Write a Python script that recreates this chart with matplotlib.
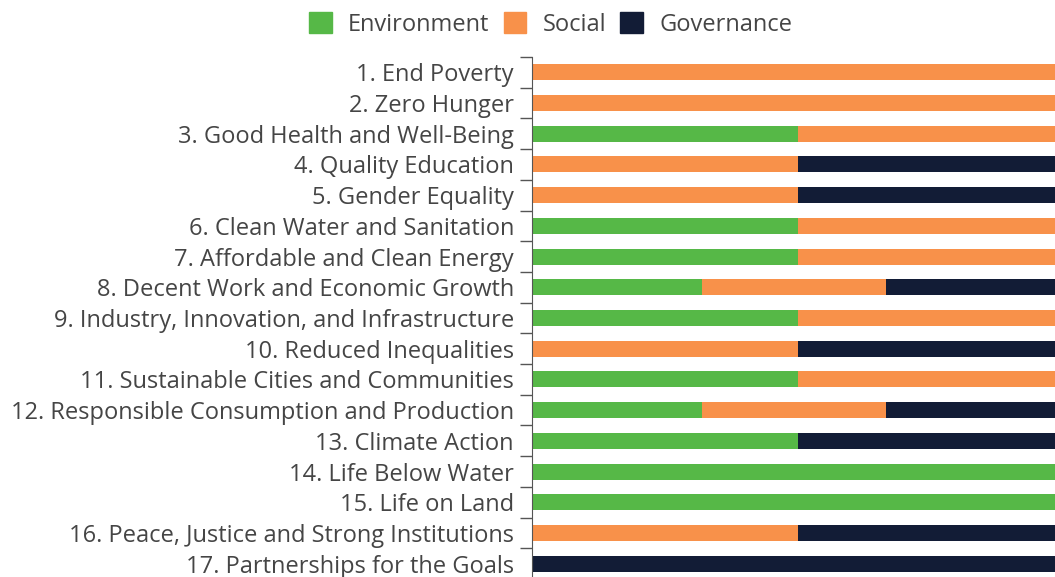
import numpy as np
import matplotlib.pyplot as plt
from matplotlib.patches import Patch

plt.rcParams['font.family'] = ['Open Sans', 'DejaVu Sans']

goals = [
    '1. End Poverty',
    '2. Zero Hunger',
    '3. Good Health and Well-Being',
    '4. Quality Education',
    '5. Gender Equality',
    '6. Clean Water and Sanitation',
    '7. Affordable and Clean Energy',
    '8. Decent Work and Economic Growth',
    '9. Industry, Innovation, and Infrastructure',
    '10. Reduced Inequalities',
    '11. Sustainable Cities and Communities',
    '12. Responsible Consumption and Production',
    '13. Climate Action',
    '14. Life Below Water',
    '15. Life on Land',
    '16. Peace, Justice and Strong Institutions',
    '17. Partnerships for the Goals',
]
environment = [0, 0, 0.5, 0, 0, 0.5, 0.5, 0.32, 0.5, 0, 0.5, 0.32, 0.5, 1, 1, 0, 0]
social = [1, 1, 0.5, 0.5, 0.5, 0.5, 0.5, 0.345, 0.5, 0.5, 0.5, 0.345, 0, 0, 0, 0.5, 0]
governance = [0, 0, 0, 0.5, 0.5, 0, 0, 0.335, 0, 0.5, 0, 0.335, 0.5, 0, 0, 0.5, 1]

c_env = '#56b847'
c_soc = '#f8914a'
c_gov = '#121c36'
txt = '#454545'

fig = plt.figure(figsize=(10.55, 5.77), dpi=100)
ax = fig.add_axes([532 / 1055, -2 / 577, 532 / 1055, 522 / 577])

y = np.arange(len(goals))
env = np.array(environment)
soc = np.array(social)
gov = np.array(governance)
h = 0.52
ax.barh(y, env, height=h, color=c_env)
ax.barh(y, soc, left=env, height=h, color=c_soc)
ax.barh(y, gov, left=env + soc, height=h, color=c_gov)

ax.set_xlim(0, 1)
ax.set_ylim(len(goals) - 0.5, -0.5)
ax.set_xticks([])
ax.set_yticks(y)
ax.set_yticklabels(goals, fontsize=17, color=txt)
ax.set_yticks(np.arange(len(goals) + 1) - 0.5, minor=True)
ax.tick_params(axis='y', which='major', length=0, pad=13)
ax.tick_params(axis='y', which='minor', length=9, width=1, color='#555555')
for s in ['top', 'right', 'bottom']:
    ax.spines[s].set_visible(False)
ax.spines['left'].set_color('#555555')

handles = [Patch(color=c_env, label='Environment'),
           Patch(color=c_soc, label='Social'),
           Patch(color=c_gov, label='Governance')]
fig.legend(handles=handles, loc='center', bbox_to_anchor=(0.522, 0.958), ncol=3,
           frameon=False, fontsize=17, handlelength=0.95, handleheight=1.0,
           handletextpad=0.7, columnspacing=0.6, labelcolor=txt)

fig.savefig('out.png', dpi=100)
